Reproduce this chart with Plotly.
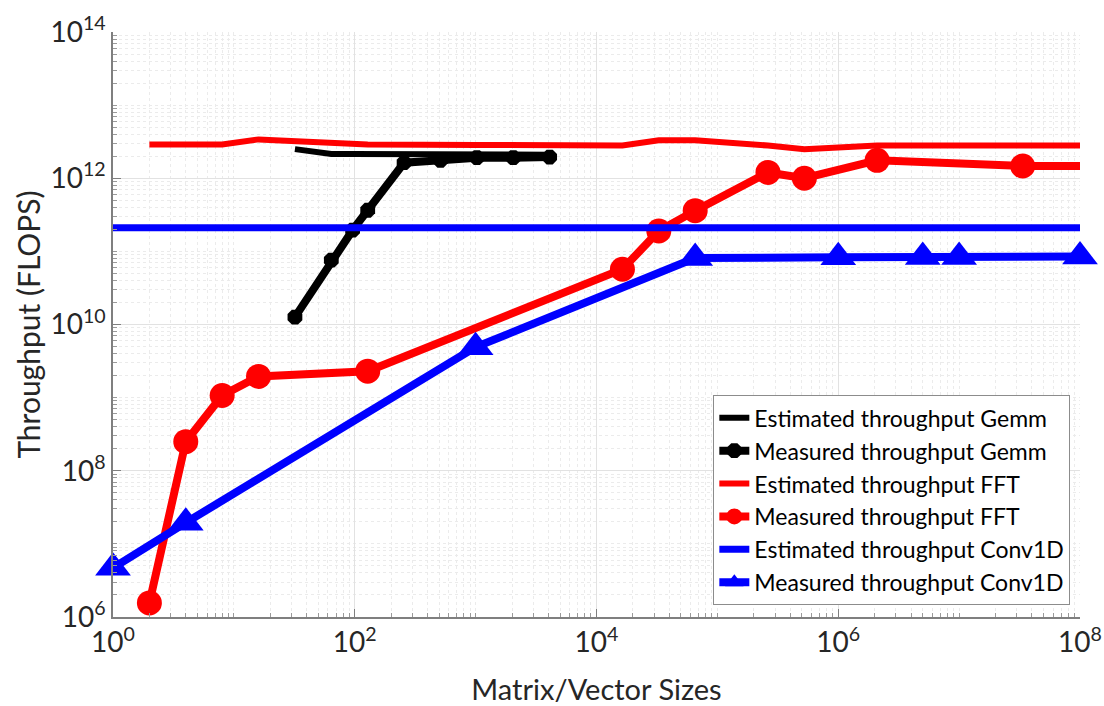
import plotly.graph_objects as go

# ---- data ----
gemm_sizes = [32, 64, 96, 128, 256, 512, 1024, 2048, 4096]
gemm_est = [2.5e12, 2.15e12, 2.15e12, 2.15e12, 2.1e12, 2.1e12, 2.1e12, 2.1e12, 2.1e12]
gemm_meas = [1.26e10, 7.6e10, 1.95e11, 3.65e11, 1.63e12, 1.76e12, 1.91e12, 1.91e12, 1.95e12]

fft_est_sizes = [2, 4, 8, 16, 32, 64, 128, 1024, 16384, 32768, 65536, 262144,
                 524288, 2097152, 134217728]
fft_est = [2.9e12, 2.9e12, 2.9e12, 3.4e12, 3.2e12, 3.0e12, 2.9e12, 2.85e12, 2.8e12,
           3.3e12, 3.3e12, 2.8e12, 2.5e12, 2.8e12, 2.8e12]

fft_sizes = [2, 4, 8, 16, 128, 16384, 32768, 65536, 262144, 524288, 2097152,
             33554432, 134217728]
fft_meas = [1.56e6, 2.5e8, 1.07e9, 1.95e9, 2.3e9, 5.7e10, 1.9e11, 3.6e11, 1.2e12,
            1.0e12, 1.76e12, 1.47e12, 1.47e12]

conv_est_sizes = [1, 1e8]
conv_est = [2.1e11, 2.1e11]
conv_sizes = [1, 4, 1000, 65536, 1e6, 5e6, 1e7, 1e8]
conv_meas = [4.7e6, 1.95e7, 4.9e9, 8.1e10, 8.3e10, 8.4e10, 8.4e10, 8.5e10]

x_tick_vals = [1, 1e2, 1e4, 1e6, 1e8]
x_tick_text = ["10<sup>0</sup>", "10<sup>2</sup>", "10<sup>4</sup>", "10<sup>6</sup>", "10<sup>8</sup>"]
y_tick_vals = [1e6, 1e8, 1e10, 1e12, 1e14]
y_tick_text = ["10<sup>6</sup>", "10<sup>8</sup>", "10<sup>10</sup>", "10<sup>12</sup>", "10<sup>14</sup>"]

FONT = "Lato, 'Open Sans', sans-serif"

fig = go.Figure()

fig.add_trace(go.Scatter(
    x=gemm_sizes, y=gemm_est, mode="lines", name="Estimated throughput Gemm",
    line=dict(color="black", width=6)))
fig.add_trace(go.Scatter(
    x=gemm_sizes, y=gemm_meas, mode="lines+markers", name="Measured throughput Gemm",
    line=dict(color="black", width=8),
    marker=dict(symbol="octagon", size=16, color="black")))
fig.add_trace(go.Scatter(
    x=fft_est_sizes, y=fft_est, mode="lines", name="Estimated throughput FFT",
    line=dict(color="#ff0000", width=6)))
fig.add_trace(go.Scatter(
    x=fft_sizes, y=fft_meas, mode="lines+markers", name="Measured throughput FFT",
    line=dict(color="#ff0000", width=8),
    marker=dict(symbol="circle", size=25, color="#ff0000")))
fig.add_trace(go.Scatter(
    x=conv_est_sizes, y=conv_est, mode="lines", name="Estimated throughput Conv1D",
    line=dict(color="#0000ff", width=7)))
fig.add_trace(go.Scatter(
    x=conv_sizes, y=conv_meas, mode="lines+markers", name="Measured throughput Conv1D",
    line=dict(color="#0000ff", width=8), cliponaxis=False,
    marker=dict(symbol="triangle-up", size=31, color="#0000ff")))

axis_common = dict(
    type="log", automargin=False,
    showgrid=True, gridcolor="#e2e2e2", gridwidth=1,
    showline=True, linecolor="#7f7f7f", linewidth=1.5,
    ticks="inside", ticklen=8, tickcolor="#7f7f7f",
    tickfont=dict(family=FONT, size=28, color="#262626"),
    minor=dict(dtick="D1", showgrid=True, gridcolor="#ebebeb", griddash="dot",
               ticks="inside", ticklen=4, tickcolor="#9a9a9a"),
    zeroline=False,
)

fig.update_xaxes(
    **axis_common, range=[0, 8], tickvals=x_tick_vals, ticktext=x_tick_text,
    title=dict(text="Matrix/Vector Sizes", font=dict(family=FONT, size=29, color="#262626"),
               standoff=22),
)
fig.update_yaxes(
    **axis_common, range=[6, 14], tickvals=y_tick_vals, ticktext=y_tick_text,
    title=dict(text="Throughput (FLOPS)", font=dict(family=FONT, size=30, color="#262626"),
               standoff=1),
)

fig.update_layout(
    width=1104, height=706,
    margin=dict(l=113, r=24, t=32, b=89),
    paper_bgcolor="white", plot_bgcolor="white",
    font=dict(family=FONT, color="#262626"),
    legend=dict(
        x=0.99, y=0.02, xanchor="right", yanchor="bottom",
        bgcolor="white", bordercolor="#8c8c8c", borderwidth=1,
        font=dict(family=FONT, size=23, color="black"),
        itemwidth=30, tracegroupgap=0,
    ),
)

fig.write_html("out.html")
